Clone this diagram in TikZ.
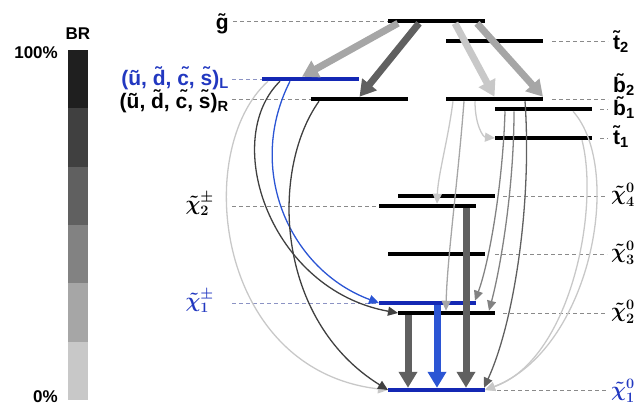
\documentclass[tikz,border=0pt]{standalone}
\usepackage{amsmath}
\usepackage{fontspec}
\setmainfont{Liberation Sans}
\usetikzlibrary{arrows.meta}
\definecolor{brA}{HTML}{1F1F1F}
\definecolor{brB}{HTML}{404040}
\definecolor{brC}{HTML}{606060}
\definecolor{brD}{HTML}{828282}
\definecolor{brE}{HTML}{A6A6A6}
\definecolor{brF}{HTML}{C8C8C8}
\definecolor{lspblue}{HTML}{1428B4}
\definecolor{decblue}{HTML}{2B55D4}
\definecolor{txtblue}{HTML}{2238C0}
\definecolor{guidegray}{HTML}{8A8A8A}
\definecolor{guideblue}{HTML}{8C93C4}
\newcommand{\sqk}{(\~u, \~d, \~c, \~s)}

\begin{document}
\begin{tikzpicture}[x=1pt,y=-1pt,
    lvl/.style={fill=black,minimum width=97pt,minimum height=4.5pt,inner sep=0pt,outer sep=0pt},
    lvlblue/.style={lvl,fill=lspblue},
    lbl/.style={inner sep=0pt,font=\fontsize{21}{25}\selectfont\bfseries},
    mlbl/.style={inner sep=0pt,font=\fontsize{21}{25}\selectfont\boldmath},
    guide/.style={draw=guidegray,dash pattern=on 4pt off 3pt,line width=0.8pt},
    fat/.style={line width=7pt,-{Triangle[length=16pt,width=18pt]}},
    thin/.style={line width=1.3pt,-{Triangle[length=10pt,width=9pt]}}]
    \useasboundingbox (0,0) rectangle (637,407);
    \fill[brA] (68,50) rectangle (88,108.3);
    \fill[brB] (68,108.3) rectangle (88,166.7);
    \fill[brC] (68,166.7) rectangle (88,225);
    \fill[brD] (68,225) rectangle (88,283.3);
    \fill[brE] (68,283.3) rectangle (88,341.7);
    \fill[brF] (68,341.7) rectangle (88,400);
    \node[font=\fontsize{17}{20}\selectfont\bfseries,inner sep=0pt] (br) at (78,34) {BR};
    \node[font=\fontsize{17}{20}\selectfont\bfseries,inner sep=0pt,anchor=east] (brtop) at (58,53) {100\%};
    \node[font=\fontsize{17}{20}\selectfont\bfseries,inner sep=0pt,anchor=east] (brbot) at (58,397) {0\%};

    \node[lvl] (g) at (436.5,21) {};
    \node[lvl] (t2) at (494.5,41) {};
    \node[lvlblue] (qL) at (310.5,79) {};
    \node[lvl] (qR) at (359.5,99) {};
    \node[lvl] (b2) at (494.5,99) {};
    \node[lvl] (b1) at (543.5,109) {};
    \node[lvl] (t1) at (543.5,138) {};
    \node[lvl] (n4) at (446.5,196) {};
    \node[lvl] (c2) at (427.5,206) {};
    \node[lvl] (n3) at (436.5,254) {};
    \node[lvlblue] (c1) at (427.5,303) {};
    \node[lvl] (n2) at (446.5,313) {};
    \node[lvlblue] (n1) at (436.5,390) {};

    \node[lbl,anchor=base east] (lg) at (229,29) {\~g};
    \node[lbl,anchor=base east,text=txtblue] (lqL) at (229,85) {\sqk\textsubscript{L}};
    \node[lbl,anchor=base east] (lqR) at (229,108) {\sqk\textsubscript{R}};
    \node[mlbl,anchor=east] (lc2) at (214,204) {$\tilde{\chi}^{\pm}_{2}$};
    \node[mlbl,anchor=east,text=txtblue] (lc1) at (214,301) {$\tilde{\chi}^{\pm}_{1}$};
    \node[lbl,anchor=base west] (lt2) at (613,49) {\~t\textsubscript{2}};
    \node[lbl,anchor=base west] (lb2) at (613,92) {\~b\textsubscript{2}};
    \node[lbl,anchor=base west] (lb1) at (613,115) {\~b\textsubscript{1}};
    \node[lbl,anchor=base west] (lt1) at (613,144) {\~t\textsubscript{1}};
    \node[mlbl,anchor=west] (ln4) at (611,195) {$\tilde{\chi}^{0}_{4}$};
    \node[mlbl,anchor=west] (ln3) at (611,253) {$\tilde{\chi}^{0}_{3}$};
    \node[mlbl,anchor=west] (ln2) at (611,312) {$\tilde{\chi}^{0}_{2}$};
    \node[mlbl,anchor=west,text=txtblue] (ln1) at (611,391) {$\tilde{\chi}^{0}_{1}$};

    \draw[guide] (lg.east |- g) ++(4,0) -- (g.west);
    \draw[guide,draw=guideblue] (232,79) -- (qL.west);
    \draw[guide] (232,99) -- (qR.west);
    \draw[guide] (232,206) -- (c2.west);
    \draw[guide,draw=guideblue] (232,303) -- (c1.west);
    \draw[guide,shorten <=9pt,shorten >=5pt] (t2.east) -- (lt2.west |- t2);
    \draw[guide,shorten <=9pt,shorten >=5pt] (b2.east) -- (lb2.west |- b2);
    \draw[guide,shorten <=8pt,shorten >=5pt] (b1.east) -- (lb1.west |- b1);
    \draw[guide,shorten <=8pt,shorten >=5pt] (t1.east) -- (lt1.west |- t1);
    \draw[guide,shorten <=8pt,shorten >=4pt] (n4.east) -- (ln4.west |- n4);
    \draw[guide,shorten <=10pt,shorten >=4pt] (n3.east) -- (ln3.west |- n3);
    \draw[guide,shorten <=8pt,shorten >=4pt] (n2.east) -- (ln2.west |- n2);
    \draw[guide,shorten <=12pt,shorten >=4pt] (n1.east) -- (ln1.west |- n1);

    \draw[fat,draw=brE] ([xshift=-38.5pt]g.south) -- ([xshift=-8.5pt]qL.north);
    \draw[fat,draw=brC] ([xshift=-17.5pt]g.south) -- (qR.north);
    \draw[fat,draw=brF] ([xshift=18.5pt]g.south) -- (b2.north);
    \draw[fat,draw=brE] ([xshift=40.5pt]g.south) -- (b2.north east);

    \draw[thin,draw=brF] ([xshift=-42.5pt]qL.south) .. controls (192,150) and (215,370) .. (n1.west);
    \draw[thin,draw=brB] ([xshift=-30.5pt]qL.south) .. controls (220,140) and (270,290) .. (n2.west);
    \draw[thin,draw=decblue] ([xshift=-20.5pt]qL.south) .. controls (245,170) and (290,270) .. (c1.west);
    \draw[thin,draw=brB] ([xshift=-40.5pt]qR.south) .. controls (270,170) and (275,320) .. (n1.west);

    \draw[thin,draw=brF] ([xshift=-41.5pt]b2.south) .. controls (448,140) and (438,175) .. ([xshift=9.5pt]c2.north);
    \draw[thin,draw=brE] ([xshift=-30.5pt]b2.south) .. controls (458,180) and (447,260) .. ([xshift=-0.5pt]n2.north);
    \draw[thin,draw=brF] ([xshift=-19.5pt]b2.south) .. controls (475,125) and (483,137) .. (t1.west);
    \draw[thin,draw=brD] ([xshift=-38.5pt]b1.south) .. controls (503,180) and (490,260) .. ([xshift=-1pt]c1.north east);
    \draw[thin,draw=brD] ([xshift=-29.5pt]b1.south) .. controls (514,190) and (500,270) .. ([xshift=-6pt]n2.north east);
    \draw[thin,draw=brC] ([xshift=30.5pt]b2.south) .. controls (532,200) and (515,320) .. ([xshift=-1pt]n1.north east);
    \draw[thin,draw=brF] ([xshift=29.5pt]b1.south) .. controls (625,170) and (590,350) .. (n1.east);
    \draw[thin,draw=brF] ([xshift=38.5pt]t1.south) .. controls (600,210) and (570,360) .. (n1.east);

    \draw[fat,draw=brC] ([xshift=38.5pt]c2.south) -- ([xshift=29.5pt]n1.north);
    \draw[fat,draw=decblue] ([xshift=9.5pt]c1.south) -- ([xshift=0.5pt]n1.north);
    \draw[fat,draw=brC] ([xshift=-38.5pt]n2.south) -- ([xshift=-28.5pt]n1.north);
\end{tikzpicture}
\end{document}
